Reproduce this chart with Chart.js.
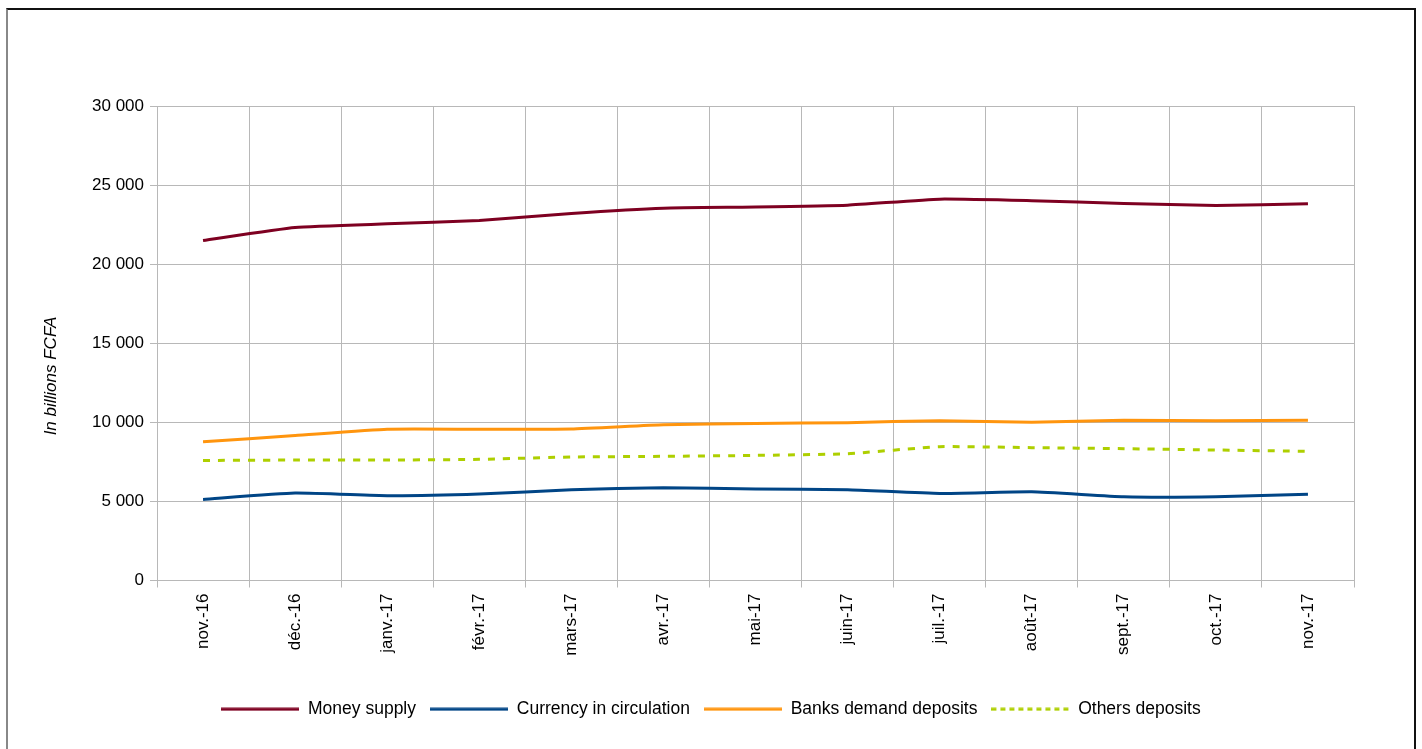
<!DOCTYPE html>
<html lang="en">

<head>
    <meta charset="UTF-8">
    <title>Money supply</title>
    <script src="https://cdn.jsdelivr.net/npm/chart.js"></script>
    <style>
        body { margin: 0; background: #fff; }
        #frame {
            position: absolute; left: 6px; top: 8px; width: 1406px; height: 800px;
            border-top: 2px solid #111; border-right: 2px solid #111; border-left: 2px solid #888;
        }
        #wrap { position: absolute; left: 0; top: 0; width: 1422px; height: 749px; }
    </style>
</head>

<body>
    <div id="frame"></div>
    <div id="wrap"><canvas id="myChart"></canvas></div>

    <script>
        const months = ['nov.-16', 'déc.-16', 'janv.-17', 'févr.-17', 'mars-17', 'avr.-17', 'mai-17',
            'juin-17', 'juil.-17', 'août-17', 'sept.-17', 'oct.-17', 'nov.-17'];
        const moneySupply = [21500, 22320, 22550, 22760, 23210, 23540, 23610, 23730, 24110, 24010, 23840, 23710, 23820];
        const currency = [5125, 5525, 5360, 5465, 5740, 5865, 5790, 5740, 5505, 5610, 5295, 5295, 5460];
        const banksDeposits = [8780, 9160, 9560, 9560, 9580, 9850, 9930, 9980, 10105, 10000, 10130, 10100, 10130];
        const otherDeposits = [7590, 7615, 7615, 7660, 7810, 7850, 7910, 8015, 8460, 8400, 8335, 8250, 8165];
        const yTicks = [0, 5000, 10000, 15000, 20000, 25000, 30000];

        const font = 'Liberation Sans, Arial, sans-serif';
        const gridColor = '#b8b8b8';

        // y axis title, drawn a bit below the middle like the original
        const yTitle = {
            id: 'yTitle',
            afterDraw(chart) {
                const ctx = chart.ctx;
                ctx.save();
                ctx.translate(51, 376);
                ctx.rotate(-Math.PI / 2);
                ctx.font = 'italic 17px ' + font;
                ctx.fillStyle = '#000';
                ctx.textAlign = 'center';
                ctx.textBaseline = 'middle';
                ctx.fillText('In billions FCFA', 0, 0);
                ctx.restore();
            }
        };

        // legend is centred on the whole canvas, not on the padded area
        const legendWide = {
            id: 'legendWide',
            afterLayout(chart) {
                chart.legend.left = 0;
                chart.legend.right = chart.width;
            }
        };

        // the 'line' point style closes its path, which hides dashes, so use a small image
        function legendSwatch(color, dash) {
            const c = document.createElement('canvas');
            c.width = 78;
            c.height = 4;
            const g = c.getContext('2d');
            g.strokeStyle = color;
            g.lineWidth = 3;
            g.setLineDash(dash);
            g.beginPath();
            g.moveTo(0, 2);
            g.lineTo(78, 2);
            g.stroke();
            return c;
        }

        function line(label, data, color, dash) {
            return {
                label: label,
                data: data,
                borderColor: color,
                backgroundColor: color,
                borderWidth: 3,
                borderDash: dash || [],
                pointRadius: 0,
                tension: 0.15,
                fill: false
            };
        }

        Chart.defaults.font.family = font;
        Chart.defaults.color = '#000';

        new Chart(document.getElementById('myChart'), {
            type: 'line',
            data: {
                labels: months,
                datasets: [
                    line('Money supply', moneySupply, '#7e0021'),
                    line('Currency in circulation', currency, '#004586'),
                    line('Banks demand deposits', banksDeposits, '#ff950e'),
                    line('Others deposits', otherDeposits, '#aecf00', [7, 8])
                ]
            },
            options: {
                responsive: true,
                maintainAspectRatio: false,
                animation: false,
                layout: { padding: { top: 106, right: 68, left: 0, bottom: 21 } },
                plugins: {
                    tooltip: { enabled: false },
                    legend: {
                        position: 'bottom',
                        labels: {
                            usePointStyle: true,
                            pointStyleWidth: 78,
                            padding: 14,
                            font: { size: 17.5 },
                            color: '#000',
                            generateLabels(chart) {
                                return chart.data.datasets.map((ds, i) => ({
                                    text: ds.label,
                                    datasetIndex: i,
                                    hidden: false,
                                    fontColor: '#000',
                                    lineWidth: 0,
                                    pointStyle: legendSwatch(ds.borderColor, i === 3 ? [5, 4] : [])
                                }));
                            }
                        }
                    }
                },
                scales: {
                    x: {
                        offset: true,
                        grid: { offset: true, color: gridColor, tickLength: 7 },
                        border: { color: gridColor },
                        ticks: {
                            autoSkip: false, maxRotation: 90, minRotation: 90, padding: 6,
                            font: { size: 17 }, color: '#000'
                        },
                        afterFit(scale) { scale.height = 106; }
                    },
                    y: {
                        min: 0,
                        max: 30000,
                        afterBuildTicks(scale) { scale.ticks = yTicks.map(v => ({ value: v })); },
                        grid: { color: gridColor, tickLength: 7 },
                        border: { color: gridColor },
                        ticks: {
                            padding: 6,
                            font: { size: 17 },
                            color: '#000',
                            callback: v => String(v).replace(/\B(?=(\d{3})+(?!\d))/g, ' ')
                        },
                        afterFit(scale) { scale.width = 157; }
                    }
                }
            },
            plugins: [yTitle, legendWide]
        });
    </script>
</body>

</html>
